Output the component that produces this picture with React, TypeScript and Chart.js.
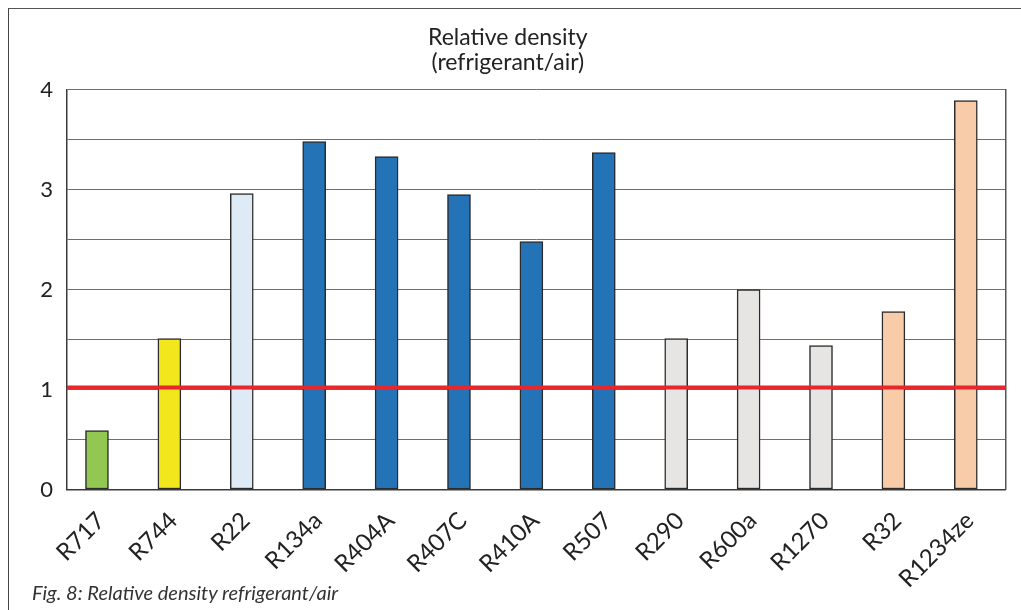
import React, { useEffect, useRef } from "react";
import { Chart, registerables } from "chart.js";

Chart.register(...registerables);

const categories = ["R717", "R744", "R22", "R134a", "R404A", "R407C", "R410A", "R507", "R290", "R600a", "R1270", "R32", "R1234ze"];
const densities = [0.59, 1.51, 2.96, 3.48, 3.33, 2.95, 2.48, 3.37, 1.51, 2.0, 1.44, 1.78, 3.89];
const barColors = ["#92c851", "#f1e71c", "#deebf6", "#2573b7", "#2573b7", "#2573b7", "#2573b7", "#2573b7", "#e6e5e3", "#e6e5e3", "#e6e5e3", "#f8cba9", "#f8cba9"];
const referenceLevel = 1.02;
const yMin = 0;
const yMax = 4;
const yStep = 0.5;
const xMin = -0.414;
const xMax = 12.551;
const titleLines = ["Relative density", "(refrigerant/air)"];
const caption = "Fig. 8: Relative density refrigerant/air";

const FONT = "Lato, 'Open Sans', sans-serif";

export default function App() {
  const canvasRef = useRef<HTMLCanvasElement | null>(null);

  useEffect(() => {
    document.body.style.margin = "0";
    const canvas = canvasRef.current;
    if (!canvas) return;
    const chart = new Chart(canvas, {
      data: {
        datasets: [
          {
            type: "line",
            data: [
              { x: xMin, y: referenceLevel },
              { x: xMax, y: referenceLevel },
            ],
            borderColor: "#e8262b",
            borderWidth: 4,
            pointRadius: 0,
            order: 0,
          } as any,
          {
            type: "bar",
            data: densities.map((v, i) => ({ x: i, y: v })),
            backgroundColor: barColors,
            borderColor: "#2b2b2b",
            borderWidth: 1.5,
            borderSkipped: false,
            barThickness: 23,
            order: 1,
          } as any,
        ],
      },
      options: {
        animation: false,
        responsive: true,
        maintainAspectRatio: false,
        layout: { padding: { top: 10, left: 10, right: 15.3, bottom: 20.5 } },
        plugins: {
          legend: { display: false },
          tooltip: { enabled: false },
          title: {
            display: true,
            text: titleLines,
            color: "#222",
            font: { family: FONT, size: 23, weight: "normal", lineHeight: 1.05 },
            padding: { top: 16, bottom: 15.2 },
          },
        },
        scales: {
          x: {
            type: "linear",
            offset: false,
            min: xMin,
            max: xMax,
            afterBuildTicks: (axis: any) => {
              axis.ticks = categories.map((_, i) => ({ value: i }));
            },
            afterFit: (scale: any) => {
              scale.height = 100;
            },
            grid: { display: false, drawTicks: false, offset: false },
            border: { display: true, color: "#3a3a3a", width: 1.5 },
            ticks: {
              autoSkip: false,
              minRotation: 45,
              maxRotation: 45,
              padding: 17,
              labelOffset: 4,
              color: "#222",
              font: { family: FONT, size: 24 },
              callback: (value: any) => categories[Math.round(Number(value))] ?? "",
            },
          },
          y: {
            type: "linear",
            min: yMin,
            max: yMax,
            afterFit: (scale: any) => {
              scale.width = 57;
            },
            grid: { color: "#6e6e6e", lineWidth: 1, drawTicks: false },
            border: { display: true, color: "#3a3a3a", width: 1.5 },
            ticks: {
              stepSize: yStep,
              padding: 14,
              color: "#222",
              font: { family: FONT, size: 22 },
              callback: (value: any) => (Number.isInteger(Number(value)) ? String(value) : ""),
            },
          },
          yRight: {
            type: "linear",
            position: "right",
            min: yMin,
            max: yMax,
            afterFit: (scale: any) => {
              scale.width = 0;
            },
            grid: { display: false, drawTicks: false },
            border: { display: true, color: "#555", width: 1.5 },
            ticks: { display: false },
          },
        },
      } as any,
    });
    return () => chart.destroy();
  }, []);

  return (
    <div style={{ position: "relative", width: 1021, height: 610, overflow: "hidden", background: "#fff" }}>
      <div
        style={{
          position: "absolute",
          left: 8,
          top: 8,
          width: 1100,
          height: 700,
          borderLeft: "1.5px solid #444",
          borderTop: "1.5px solid #555",
        }}
      />
      <div style={{ position: "absolute", left: 0, top: 0, width: 1021, height: 610 }}>
        <canvas ref={canvasRef} />
      </div>
      <div
        style={{
          position: "absolute",
          left: 32,
          top: 580,
          fontFamily: FONT,
          fontStyle: "italic",
          fontSize: 20,
          color: "#333",
          whiteSpace: "nowrap",
        }}
      >
        {caption}
      </div>
    </div>
  );
}
